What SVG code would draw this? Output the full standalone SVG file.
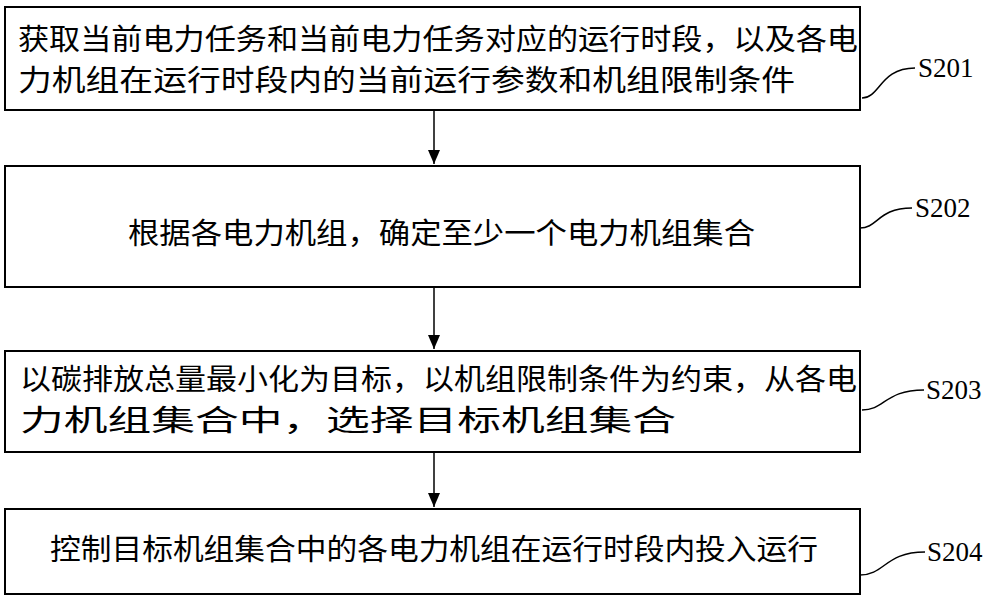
<svg xmlns="http://www.w3.org/2000/svg" width="1000" height="601" viewBox="0 0 1000 601">
<style>
.b{fill:#fff;stroke:#000;stroke-width:2}
.t{font-family:"Liberation Serif","Noto Sans CJK SC",serif;font-size:29px;fill:#000}
.l{font-family:"Liberation Serif",serif;font-size:27px;fill:#000}
.c{fill:none;stroke:#000;stroke-width:1.5}
</style>
<defs><marker id="h" markerWidth="12" markerHeight="14" refX="6" refY="14" markerUnits="userSpaceOnUse"><path d="M0,0L12,0L6,14z"/></marker></defs>
<rect width="1000" height="601" fill="#fff"/>
<g id="n1"><rect class="b" x="5" y="7" width="855" height="103"/><text class="t" x="18" y="50" textLength="840" lengthAdjust="spacingAndGlyphs">获取当前电力任务和当前电力任务对应的运行时段，以及各电</text><text class="t" x="18" y="91" textLength="777" lengthAdjust="spacingAndGlyphs">力机组在运行时段内的当前运行参数和机组限制条件</text><path class="c" d="M862,98 C880,98 880,68 915,68"/><text class="l" x="918" y="77">S201</text></g>
<g id="n2"><rect class="b" x="5" y="166" width="855" height="121"/><text class="t" x="128" y="244" textLength="627" lengthAdjust="spacingAndGlyphs">根据各电力机组，确定至少一个电力机组集合</text><path class="c" d="M860,228 C878,228 878,208 912,208"/><text class="l" x="915" y="217">S202</text></g>
<g id="n3"><rect class="b" x="5" y="351" width="855" height="101"/><text class="t" x="20" y="390" textLength="837" lengthAdjust="spacingAndGlyphs">以碳排放总量最小化为目标，以机组限制条件为约束，从各电</text><text class="t" x="20" y="431" textLength="656" lengthAdjust="spacingAndGlyphs">力机组集合中，选择目标机组集合</text><path class="c" d="M862,410 C885,410 885,390 924,390"/><text class="l" x="926" y="399">S203</text></g>
<g id="n4"><rect class="b" x="5" y="509" width="855" height="85"/><text class="t" x="50" y="560" textLength="768" lengthAdjust="spacingAndGlyphs">控制目标机组集合中的各电力机组在运行时段内投入运行</text><path class="c" d="M860,575 C885,575 885,552 925,552"/><text class="l" x="927" y="561">S204</text></g>
<g id="edges" stroke="#000" stroke-width="1.5">
<line x1="434" y1="110" x2="434" y2="164" marker-end="url(#h)"/>
<line x1="434" y1="287" x2="434" y2="349" marker-end="url(#h)"/>
<line x1="434" y1="452" x2="434" y2="507" marker-end="url(#h)"/>
</g>
</svg>
